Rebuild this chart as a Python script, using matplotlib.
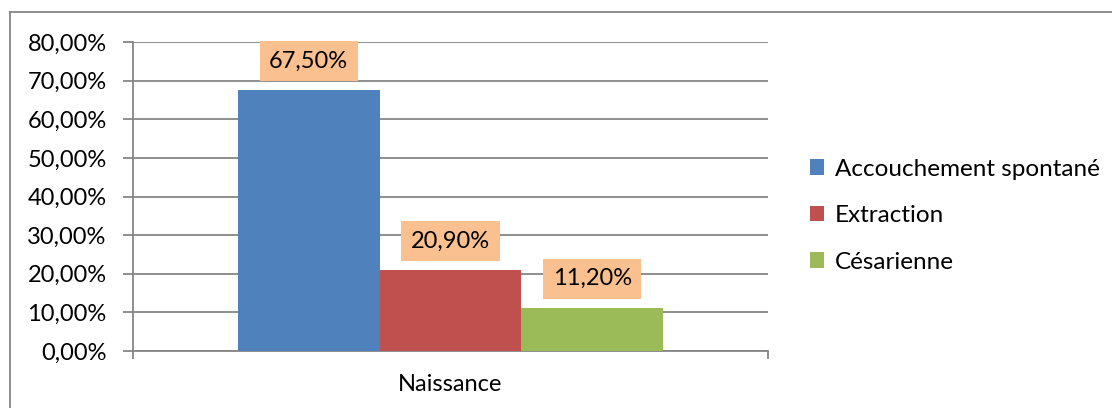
import matplotlib
matplotlib.use("Agg")
from matplotlib import pyplot as plt
from matplotlib.lines import Line2D
from matplotlib.ticker import FuncFormatter

# data
category = "Naissance"
series = ["Accouchement spontané", "Extraction", "Césarienne"]
values = [67.5, 20.9, 11.2]
colors = ["#4F81BD", "#C0504D", "#9BBB59"]
y_ticks = [0, 10, 20, 30, 40, 50, 60, 70, 80]

grey = "#868686"
plt.rcParams["font.family"] = ["Lato", "DejaVu Sans"]

fig = plt.figure(figsize=(11.12, 4.08), dpi=100)
ax = fig.add_axes([133 / 1112, 1 - 351 / 408, 635 / 1112, 309 / 408])

# outer chart border (only top and left visible)
fig.add_artist(Line2D([10 / 1112, 10 / 1112], [0, 1 - 12 / 408],
                      transform=fig.transFigure, color=grey, lw=1.3))
fig.add_artist(Line2D([10 / 1112, 1], [1 - 12 / 408, 1 - 12 / 408],
                      transform=fig.transFigure, color=grey, lw=1.3))

xs = [0, 1, 2]
for x, v, c, name in zip(xs, values, colors, series):
    ax.bar(x, v, width=1.0, color=c, label=name, zorder=3)
    ax.annotate("{:.2f}%".format(v).replace(".", ","), xy=(x, v),
                xytext=(0, 21), textcoords="offset points",
                ha="center", va="center", fontsize=17, zorder=4,
                bbox=dict(boxstyle="square,pad=0.4", fc="#FAC090", ec="none"))

ax.set_xlim(-1.239, 3.239)
ax.set_ylim(0, 80)
ax.set_yticks(y_ticks)
ax.yaxis.set_major_formatter(FuncFormatter(lambda v, p: "{:.2f}%".format(v).replace(".", ",")))
ax.tick_params(axis="y", length=7, width=1.3, color=grey, labelsize=17, pad=12)
ax.yaxis.grid(True, color=grey, lw=1.3, zorder=0)

ax.set_xticks([-1.239, 3.239])
ax.set_xticklabels([])
ax.tick_params(axis="x", length=6, width=1.3, color=grey, direction="out")
ax.text(0.5, -0.11, category, transform=ax.transAxes, ha="center", va="center",
        fontsize=17)

for s in ["top", "right"]:
    ax.spines[s].set_visible(False)
for s in ["left", "bottom"]:
    ax.spines[s].set_color(grey)
    ax.spines[s].set_linewidth(1.3)

fig.legend(loc="upper left", bbox_to_anchor=(800 / 1112, 1 - 149 / 408),
           frameon=False, fontsize=17.5, handlelength=0.6, handleheight=0.6,
           handletextpad=0.45, labelspacing=1.05, borderaxespad=0)

fig.savefig("out.png", dpi=100)
